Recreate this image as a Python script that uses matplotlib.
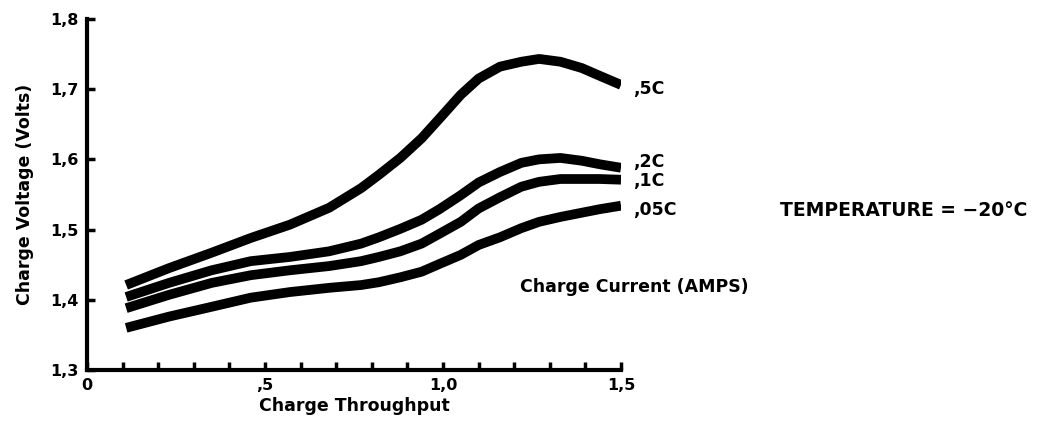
import matplotlib.pyplot as plt

# charge throughput (x) and charge voltage for each charge current
throughput = [0.11, 0.23, 0.35, 0.46, 0.57, 0.68, 0.77, 0.82, 0.88, 0.94,
              0.99, 1.05, 1.10, 1.16, 1.22, 1.27, 1.33, 1.39, 1.44, 1.50]
v_05c = [1.421, 1.445, 1.467, 1.488, 1.507, 1.531, 1.559, 1.578, 1.602, 1.630,
         1.658, 1.692, 1.715, 1.732, 1.739, 1.743, 1.739, 1.730, 1.719, 1.706]
v_02c = [1.404, 1.424, 1.442, 1.455, 1.461, 1.469, 1.480, 1.489, 1.501, 1.514,
         1.529, 1.549, 1.567, 1.582, 1.595, 1.600, 1.602, 1.598, 1.593, 1.588]
v_01c = [1.388, 1.407, 1.424, 1.435, 1.442, 1.448, 1.455, 1.461, 1.469, 1.480,
         1.494, 1.511, 1.530, 1.546, 1.561, 1.568, 1.572, 1.572, 1.572, 1.571]
v_005c = [1.360, 1.376, 1.390, 1.403, 1.411, 1.417, 1.421, 1.425, 1.432, 1.440,
          1.451, 1.464, 1.478, 1.489, 1.502, 1.511, 1.518, 1.524, 1.529, 1.534]
curve_labels = [',5C', ',2C', ',1C', ',05C']
label_y = [1.70, 1.596, 1.569, 1.528]

yticks = [1.3, 1.4, 1.5, 1.6, 1.7, 1.8]
ytick_labels = ['1,3', '1,4', '1,5', '1,6', '1,7', '1,8']
xticks = [0, 0.5, 1.0, 1.5]
xtick_labels = ['0', ',5', '1,0', '1,5']
xminor = [0.1, 0.2, 0.3, 0.4, 0.6, 0.7, 0.8, 0.9, 1.1, 1.2, 1.3, 1.4]

plt.rcParams['font.family'] = ['DejaVu Sans']
plt.rcParams['font.weight'] = 'bold'
fs = 12.5

fig = plt.figure(figsize=(10.43, 4.23), dpi=100)
ax = fig.add_axes([0.0834, 0.1253, 0.512, 0.830])

for v in [v_05c, v_02c, v_01c, v_005c]:
    ax.plot(throughput, v, color='black', lw=7, solid_capstyle='butt', solid_joinstyle='round')

for lab, y in zip(curve_labels, label_y):
    ax.text(1.535, y, lab, fontsize=fs, fontweight='bold', va='center', ha='left')

ax.text(1.537, 1.418, 'Charge Current (AMPS)', fontsize=fs, fontweight='bold', va='center', ha='center')
fig.text(0.748, 0.503, 'TEMPERATURE = \u221220\u00b0C', fontsize=13.5, fontweight='bold', va='center', ha='left')

ax.set_xlim(0, 1.5)
ax.set_ylim(1.3, 1.8)
ax.spines['top'].set_visible(False)
ax.spines['right'].set_visible(False)
ax.spines['left'].set_linewidth(3)
ax.spines['bottom'].set_linewidth(3)

ax.set_yticks(yticks)
ax.set_yticklabels(ytick_labels, fontsize=11.5, fontweight='bold')
ax.set_xticks(xticks)
ax.set_xticklabels(xtick_labels, fontsize=11.5, fontweight='bold')
ax.set_xticks(xminor, minor=True)
ax.tick_params(axis='both', which='both', direction='in', width=2.5, length=6, pad=6)

ax.set_xlabel('Charge Throughput', fontsize=fs, fontweight='bold', labelpad=3)
ax.set_ylabel('Charge Voltage (Volts)', fontsize=fs, fontweight='bold', labelpad=12)

plt.savefig('out.png', dpi=100)
